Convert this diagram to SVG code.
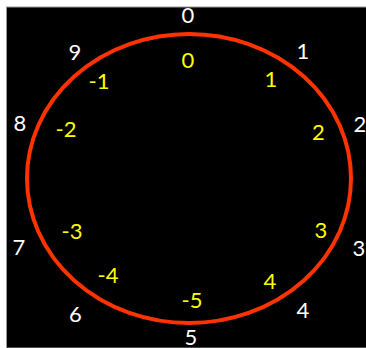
<svg xmlns="http://www.w3.org/2000/svg" width="366" height="348" viewBox="0 0 366 348">
  <style>
    text { font-family: Lato, "Open Sans", "Liberation Sans", sans-serif; font-size: 22px; text-anchor: middle; }
    .w { fill: #ffffff; }
    .y { fill: #ffff00; }
    .ring { fill: none; stroke: #ff3300; stroke-width: 4; }
  </style>
  <rect x="0" y="0" width="366" height="348" fill="#ffffff"/>
  <rect x="6.5" y="7" width="360" height="341" fill="#000000" stroke="#9a9a9a" stroke-width="1"/>
  <g id="ring">
    <ellipse class="ring" cx="189" cy="178.5" rx="162" ry="144.5"/>
  </g>
  <g id="outer-labels">
    <text class="w" x="188" y="23">0</text>
    <text class="w" x="303" y="59">1</text>
    <text class="w" x="360" y="132">2</text>
    <text class="w" x="359" y="255.5">3</text>
    <text class="w" x="303" y="317.5">4</text>
    <text class="w" x="191" y="345">5</text>
    <text class="w" x="75.5" y="321.5">6</text>
    <text class="w" x="19" y="254.5">7</text>
    <text class="w" x="20" y="131">8</text>
    <text class="w" x="75" y="59.5">9</text>
  </g>
  <g id="inner-labels">
    <text class="y" x="188" y="67.5">0</text>
    <text class="y" x="271" y="87">1</text>
    <text class="y" x="318.5" y="139.5">2</text>
    <text class="y" x="321" y="237.5">3</text>
    <text class="y" x="270" y="288.5">4</text>
    <text class="y" x="192" y="307.5">-5</text>
    <text class="y" x="108" y="282.5">-4</text>
    <text class="y" x="72" y="238.5">-3</text>
    <text class="y" x="66" y="136.5">-2</text>
    <text class="y" x="99" y="88.5">-1</text>
  </g>
</svg>
